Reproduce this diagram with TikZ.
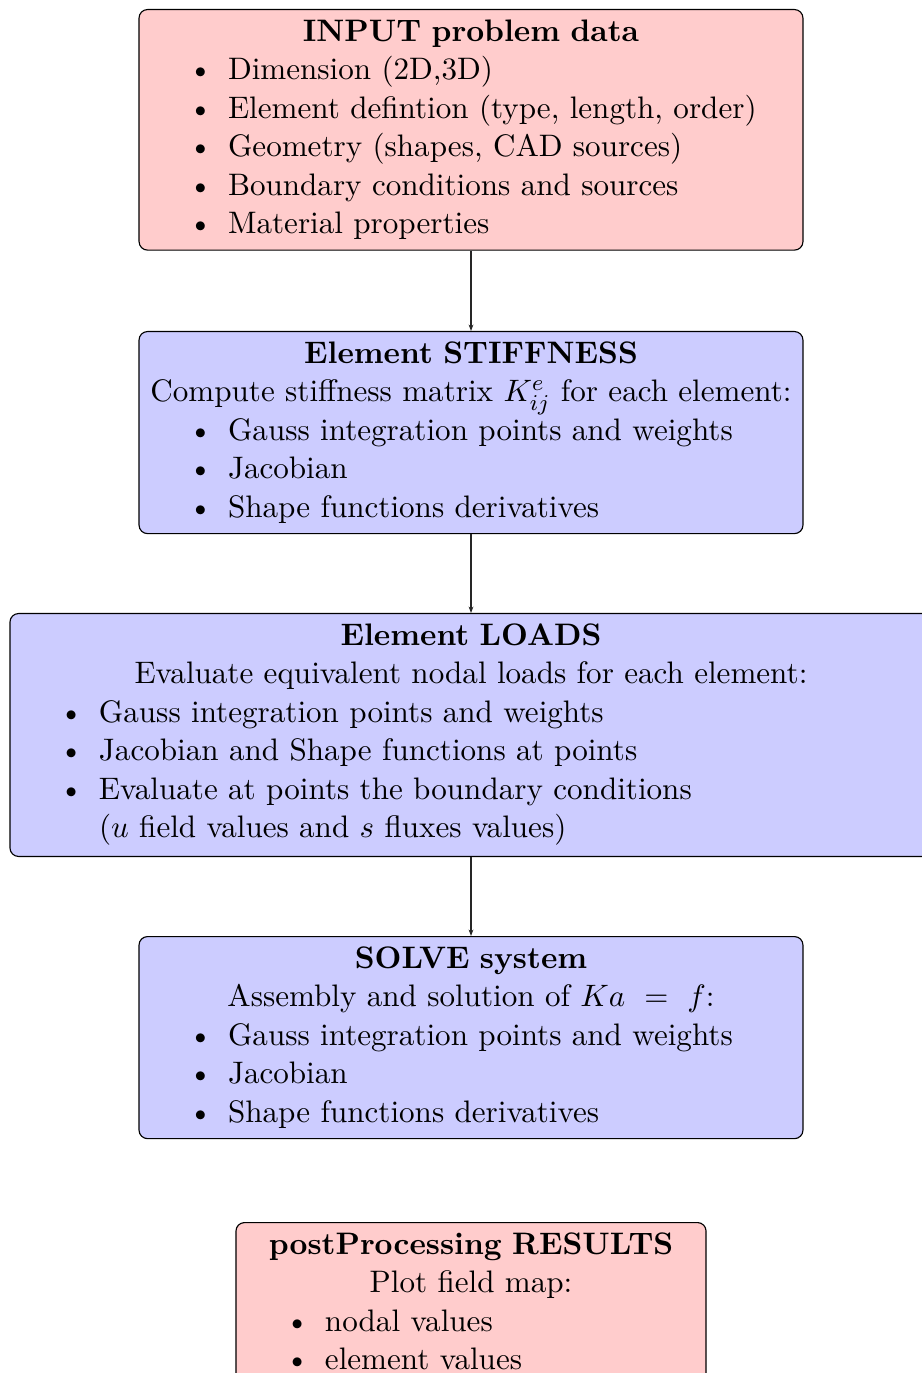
\documentclass[tikz,border=0pt]{standalone}
\usetikzlibrary{arrows.meta}
\definecolor{pinkfill}{RGB}{255,204,204}
\definecolor{bluefill}{RGB}{204,204,255}
\newcommand\boxfont{\fontsize{10.99}{13.6}\selectfont\lineskiplimit=-100pt\relax}
\newcommand\hdline[1]{{\noindent\centering #1\strut\par}}
\newcommand\bitem[1]{{\raggedright\noindent\hspace*{31.45pt}\llap{\textbullet\hspace{5.5pt}}#1\strut\par}}
\newcommand\contline[1]{{\raggedright\noindent\hspace*{31.45pt}#1\strut\rule[-4.9pt]{0pt}{1pt}\par}}
\begin{document}
\begin{tikzpicture}[x=0.35336pt,y=-0.35336pt,
  boxbase/.style={draw=black, line width=0.4pt, rounded corners=3pt, inner xsep=0pt, inner ysep=1.7pt,
    anchor=north, font=\boxfont},
  redbox/.style={boxbase, fill=pinkfill},
  bluebox/.style={boxbase, fill=bluefill},
  arr/.style={draw=black!85, line width=0.4pt, -{Stealth[length=2.3pt,width=1.7pt]}}]
\useasboundingbox (0,0) rectangle (922,1373);
\clip (0,0) rectangle (922,1373);
\node[redbox, text width=234.6pt] (input) at (471,9) {%
  \hdline{\textbf{INPUT problem data}}%
  \bitem{Dimension (2D,3D)}%
  \bitem{Element defintion (type, length, order)}%
  \bitem{Geometry (shapes, CAD sources)}%
  \bitem{Boundary conditions and sources}%
  \bitem{Material properties}};
\node[bluebox, text width=234.6pt] (stiff) at (471,331) {%
  \hdline{\textbf{Element STIFFNESS}}%
  \hdline{Compute stiffness matrix \smash{$K^e_{ij}$} for each element:}%
  \bitem{Gauss integration points and weights}%
  \bitem{Jacobian}%
  \bitem{Shape functions derivatives}};
\node[bluebox, text width=325.8pt] (loads) at (471,613) {%
  \hdline{\textbf{Element LOADS}}%
  \hdline{Evaluate equivalent nodal loads for each element:}%
  \bitem{Gauss integration points and weights}%
  \bitem{Jacobian and Shape functions at points}%
  \bitem{Evaluate at points the boundary conditions}%
  \contline{($u$ field values and $s$ fluxes values)}};
\node[bluebox, text width=234.6pt] (solve) at (471,936) {%
  \hdline{\textbf{SOLVE system}}%
  \hdline{Assembly and solution of $Ka\ =\ f$:}%
  \bitem{Gauss integration points and weights}%
  \bitem{Jacobian}%
  \bitem{Shape functions derivatives}};
\node[redbox, text width=166.1pt] (post) at (471,1222) {%
  \hdline{\textbf{postProcessing RESULTS}}%
  \hdline{Plot field map:}%
  \bitem{nodal values}%
  \bitem{element values}};
\draw[arr] (input.south) -- (stiff.north);
\draw[arr] (stiff.south) -- (loads.north);
\draw[arr] (loads.south) -- (solve.north);
\end{tikzpicture}
\end{document}
